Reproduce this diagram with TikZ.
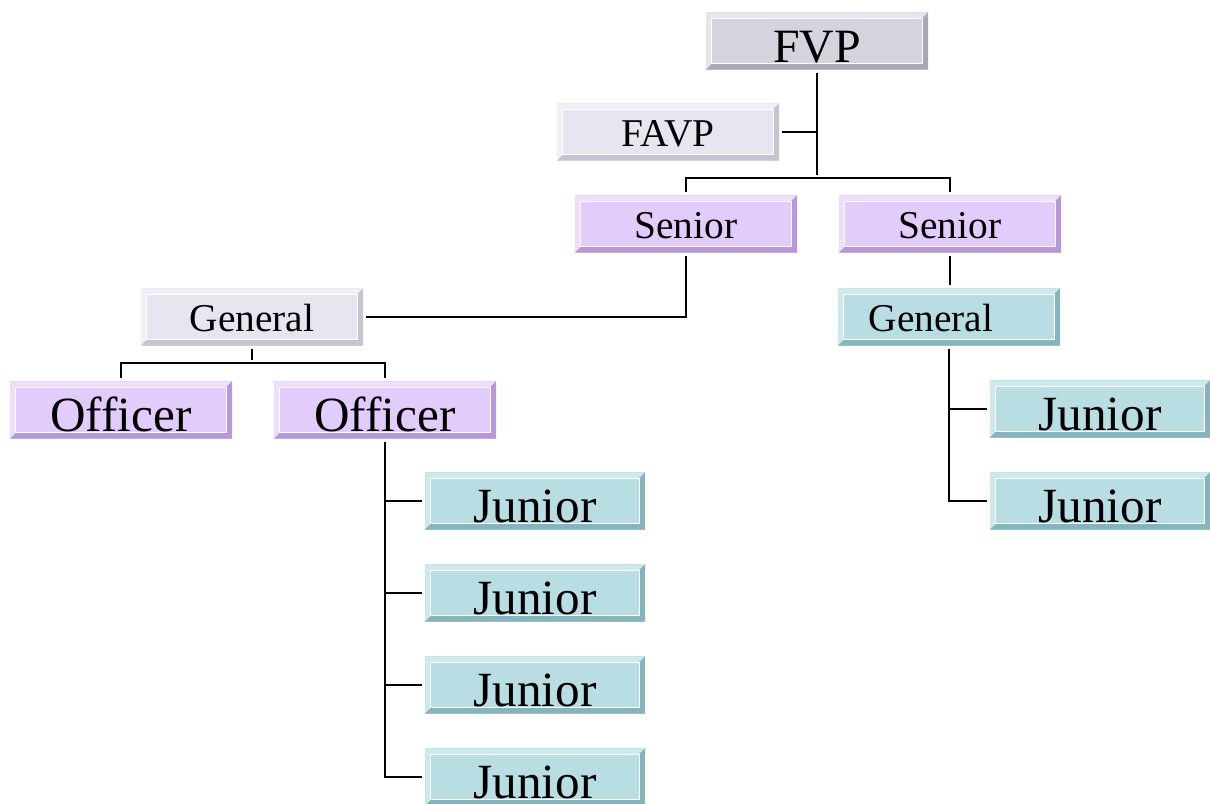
\documentclass[tikz,border=0pt]{standalone}
\usepackage{fontspec}
\setmainfont{Liberation Serif}
\usepackage{tikz}
\usetikzlibrary{calc}
\definecolor{grayface}{RGB}{212,212,222}
\definecolor{graylight}{RGB}{230,230,238}
\definecolor{graydark}{RGB}{168,168,184}
\definecolor{paleface}{RGB}{230,230,240}
\definecolor{palelight}{RGB}{240,240,246}
\definecolor{paledark}{RGB}{196,196,210}
\definecolor{lavface}{RGB}{226,204,251}
\definecolor{lavlight}{RGB}{236,222,252}
\definecolor{lavdark}{RGB}{184,152,216}
\definecolor{tealface}{RGB}{184,221,226}
\definecolor{teallight}{RGB}{206,232,235}
\definecolor{tealdark}{RGB}{134,180,188}
\def\bw{4.2pt}
\tikzset{bevel/.style n args={3}{fill=#1,inner sep=0pt,
    minimum width=5.55cm,minimum height=1.43cm,
    path picture={
      \fill[#2] (path picture bounding box.south west)
        -- (path picture bounding box.north west)
        -- (path picture bounding box.north east)
        -- ([shift={(-\bw,-\bw)}]path picture bounding box.north east)
        -- ([shift={(\bw,-\bw)}]path picture bounding box.north west)
        -- ([shift={(\bw,\bw)}]path picture bounding box.south west) -- cycle;
      \fill[#3] (path picture bounding box.south west)
        -- (path picture bounding box.south east)
        -- (path picture bounding box.north east)
        -- ([shift={(-\bw,-\bw)}]path picture bounding box.north east)
        -- ([shift={(-\bw,\bw)}]path picture bounding box.south east)
        -- ([shift={(\bw,\bw)}]path picture bounding box.south west) -- cycle;
      \draw[white,line width=0.7pt] ([shift={(\bw,\bw)}]path picture bounding box.south west)
        rectangle ([shift={(-\bw,-\bw)}]path picture bounding box.north east);
    }}}
\tikzset{big/.style={font=\fontsize{35}{40}\selectfont,text height=30pt,text depth=0pt}}
\tikzset{mid/.style={font=\fontsize{28}{32}\selectfont,text height=20.5pt,text depth=0pt}}

\begin{document}
\begin{tikzpicture}[x=0.025cm,y=-0.025cm]
    \tikzstyle{link}=[draw=black,line width=1.4pt,shorten >=2pt,shorten <=2pt]
    \useasboundingbox (0,0) rectangle (1210,803);

    % Draw the top of the chart
    \node[bevel={grayface}{graylight}{graydark},big,font=\fontsize{34}{40}\selectfont] (fvp) at (817,41) {FVP};
    \node[bevel={paleface}{palelight}{paledark},mid] (favp) at (668,132) {FAVP};
    \node[bevel={lavface}{lavlight}{lavdark},mid] (sen-1) at (686,224) {Senior};
    \node[bevel={lavface}{lavlight}{lavdark},mid] (sen-2) at (950,224) {Senior};

    % Draw the general and officer nodes
    \node[bevel={paleface}{palelight}{paledark},mid] (gen-1) at (252,317) {General};
    \node[bevel={tealface}{teallight}{tealdark},mid] (gen-2) at (949,317) {General\hspace*{0.9cm}};
    \foreach \name / \x in {1/121,2/385}
        \node[bevel={lavface}{lavlight}{lavdark},big] (off-\name) at (\x,410) {Officer};

    % Draw the junior nodes
    \foreach \name / \y in {1/501,2/593,3/685,4/777}
        \node[bevel={tealface}{teallight}{tealdark},big,minimum width=5.5cm] (jun-\name) at (535,\y) {Junior};
    \foreach \name / \y in {5/409,6/501}
        \node[bevel={tealface}{teallight}{tealdark},big,minimum width=5.5cm] (jun-\name) at (1100,\y) {Junior};

    \coordinate (top-split) at (817,178);
    \coordinate (gen-split) at (252,363);

    % Connect the boxes
    \path[link] (fvp.south) -- (top-split);
    \path[link,shorten >=0pt] (favp.east) -- (favp.east -| top-split);
    \path[link] (sen-1.north) |- (top-split) -| (sen-2.north);
    \path[link] (sen-1.south) |- (gen-1.east);
    \path[link] (sen-2.south) -- (sen-2.south |- gen-2.north);
    \path[link] (gen-1.south) -- (gen-split);
    \path[link] (off-1.north) |- (gen-split) -| (off-2.north);
    \foreach \dest in {1,2,3,4}
        \path[link] (off-2.south) |- (jun-\dest.west);
    \foreach \dest in {5,6}
        \path[link] (gen-2.south) |- (jun-\dest.west);
\end{tikzpicture}
\end{document}
